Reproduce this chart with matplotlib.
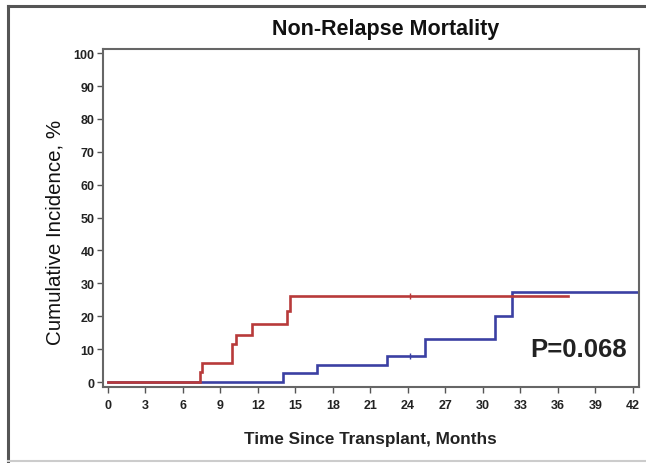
import matplotlib
matplotlib.use("Agg")
import matplotlib.pyplot as plt

plt.rcParams['font.family'] = ['Liberation Sans', 'DejaVu Sans']

# Red curve (step, post)
red_t = [0, 7.36, 7.5, 9.9, 10.25, 11.5, 14.3, 14.6, 36.8]
red_y = [0, 3.0, 5.8, 11.5, 14.3, 17.6, 21.6, 26.1, 26.1]
# Blue curve (step, post)
blue_t = [0, 14.0, 16.7, 22.3, 25.4, 31.0, 32.3, 42.5]
blue_y = [0, 2.7, 5.2, 7.9, 13.1, 20.1, 27.4, 27.4]
# Censor marks
red_cens_t = [24.2]
red_cens_y = [26.1]
blue_cens_t = [24.2]
blue_cens_y = [7.9]

x_ticks = list(range(0, 43, 3))
y_ticks = list(range(0, 101, 10))

title = "Non-Relapse Mortality"
xlabel = "Time Since Transplant, Months"
ylabel = "Cumulative Incidence, %"
p_text = "P=0.068"

RED = "#b83a3a"
BLUE = "#3b40a3"

fig = plt.figure(figsize=(6.46, 4.64), dpi=100)
ax = fig.add_axes([103/646, 1-388/464, (639-103)/646, (388-49.5)/464])

ax.step(blue_t, blue_y, where='post', color=BLUE, lw=1.9, solid_joinstyle='miter')
ax.step(red_t, red_y, where='post', color=RED, lw=1.9, solid_joinstyle='miter')
ax.plot(red_cens_t, red_cens_y, ls='none', marker='|', ms=4, mew=1, color=RED)
ax.plot(blue_cens_t, blue_cens_y, ls='none', marker='|', ms=4, mew=1, color=BLUE)

ax.set_xlim(-0.4, 42.5)
ax.set_ylim(-1.5, 101.4)
ax.set_xticks(x_ticks)
ax.set_yticks(y_ticks)
for lab in ax.get_xticklabels() + ax.get_yticklabels():
    lab.set_fontweight('bold')
    lab.set_fontsize(9)
    lab.set_color('#222222')
ax.tick_params(axis='both', direction='out', length=4, width=1, color='#555555', pad=2)
ax.tick_params(axis='x', pad=5)
for s in ax.spines.values():
    s.set_color('#666666')
    s.set_linewidth(1.5)

ax.text(37.7, 10, p_text, fontsize=18.5, fontweight='bold', ha='center', va='center', color='#222222')

fig.text(386/646, 1-30/464, title, fontsize=15.5, fontweight='bold', ha='center', va='center', color='#111111')
fig.text(370/646, 1-440/464, xlabel, fontsize=12.3, fontweight='bold', ha='center', va='center', color='#222222')
fig.text(55/646, 1-232/464, ylabel, fontsize=14.8, rotation=90, ha='center', va='center', color='#111111')

# outer frame (left, top, bottom)
fig.add_artist(plt.Line2D([8/646, 8/646], [1-462/464, 1-7/464], color='#555555', lw=2.2, transform=fig.transFigure))
fig.add_artist(plt.Line2D([8/646, 1.0], [1-7/464, 1-7/464], color='#555555', lw=2.2, transform=fig.transFigure))
fig.add_artist(plt.Line2D([8/646, 1.0], [1-462/464, 1-462/464], color='#cccccc', lw=1.5, transform=fig.transFigure))

fig.savefig("out.png", dpi=100)
